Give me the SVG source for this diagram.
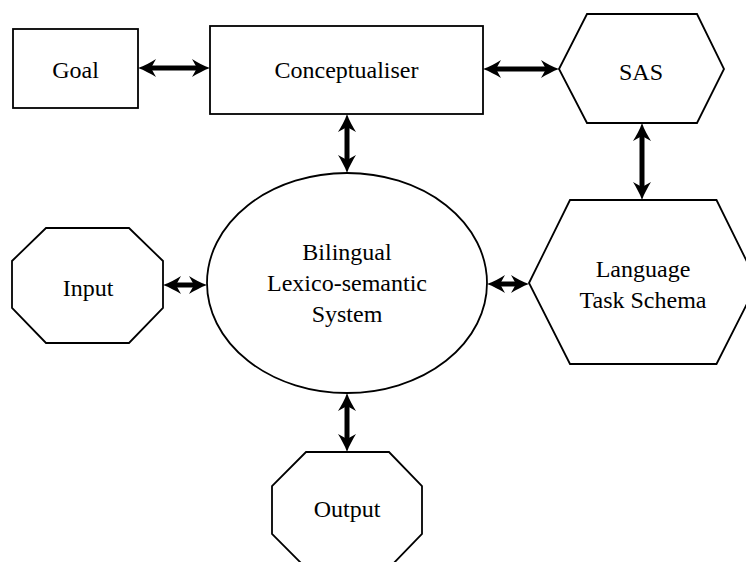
<svg xmlns="http://www.w3.org/2000/svg" width="746" height="562" viewBox="0 0 746 562">
<style>
.shape{fill:#fff;stroke:#000;stroke-width:1.8;stroke-linejoin:miter}
.lbl{font-family:"Liberation Serif","Times New Roman",serif;font-size:24px;fill:#000;text-anchor:middle}
.conn{stroke:#000;stroke-width:5;fill:none;marker-start:url(#head);marker-end:url(#head)}
</style>
<defs>
<marker id="head" markerUnits="userSpaceOnUse" markerWidth="20" markerHeight="20" viewBox="-1 -10 20 20" refX="5" refY="0" orient="auto-start-reverse">
<path d="M18,0 C12,-2 5,-6 0,-9 L5,0 L0,9 C5,6 12,2 18,0 Z" fill="#000"/>
</marker>
</defs>
<rect width="746" height="562" fill="#fff"/>
<g id="goal">
<rect class="shape" x="13" y="29" width="125" height="79"/>
<text class="lbl" x="75.5" y="78">Goal</text>
</g>
<g id="conceptualiser">
<rect class="shape" x="210" y="26" width="273" height="88"/>
<text class="lbl" x="346.5" y="78">Conceptualiser</text>
</g>
<g id="sas">
<polygon class="shape" points="559,69 587,14 697,14 724,69 697,123 587,123"/>
<text class="lbl" x="641" y="80">SAS</text>
</g>
<g id="lexicon">
<ellipse class="shape" cx="347" cy="283" rx="140" ry="110"/>
<text class="lbl" x="347" y="260">Bilingual</text>
<text class="lbl" x="347" y="291">Lexico-semantic</text>
<text class="lbl" x="347" y="322">System</text>
</g>
<g id="task-schema">
<polygon class="shape" points="529,283 570,200 716.5,200 757.5,283 716.5,364 570,364"/>
<text class="lbl" x="643" y="277">Language</text>
<text class="lbl" x="643" y="308">Task Schema</text>
</g>
<g id="input">
<polygon class="shape" points="46,228 129,228 163,261 163,308 129,343 46,343 12,308 12,261"/>
<text class="lbl" x="88" y="296">Input</text>
</g>
<g id="output">
<polygon class="shape" points="306,452 389,452 422,486 422,534 389,568 306,568 272,534 272,486"/>
<text class="lbl" x="347" y="517">Output</text>
</g>
<g id="connectors">
<line class="conn" x1="151" y1="68" x2="197" y2="68"/>
<line class="conn" x1="496" y1="69" x2="546" y2="69"/>
<line class="conn" x1="347" y1="127" x2="347" y2="160"/>
<line class="conn" x1="642" y1="136" x2="642" y2="187"/>
<line class="conn" x1="176" y1="285" x2="194" y2="285"/>
<line class="conn" x1="500" y1="284" x2="516" y2="284"/>
<line class="conn" x1="347" y1="406" x2="347" y2="439"/>
</g>
</svg>
